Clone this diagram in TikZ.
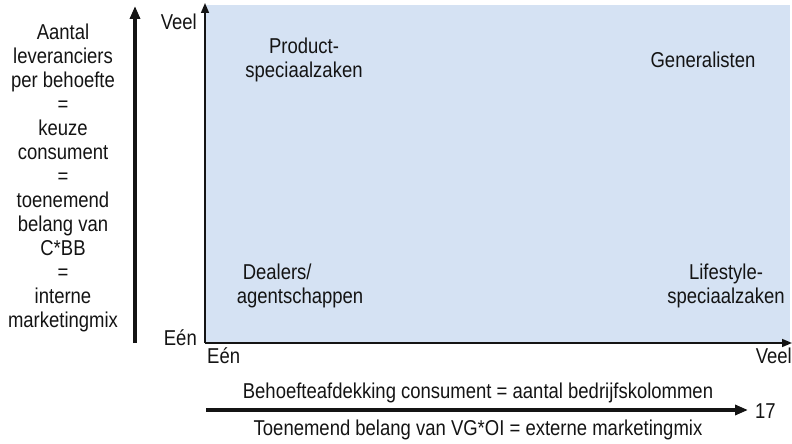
\documentclass[tikz,border=0pt]{standalone}
\usepackage{fontspec}
\setmainfont[FakeStretch=0.86]{Liberation Sans}
\usetikzlibrary{arrows.meta}
\definecolor{field}{RGB}{213,226,243}
\definecolor{ink}{RGB}{20,20,20}
\tikzset{
  lbl/.style={font=\fontsize{21.5}{24}\selectfont, text=ink, inner sep=0pt, align=center},
  axis/.style={draw=ink, line width=1.5pt, -{Triangle[length=10pt,width=8pt]}},
  bigarrow/.style={draw=ink, line width=3.2pt, -{Triangle[length=13pt,width=10pt]}},
}
\begin{document}
\begin{tikzpicture}[x=1pt,y=-1pt]
  \useasboundingbox (0,0) rectangle (792,444);

  % quadrant field
  \fill[field] (206,5) rectangle (790,343);

  % axes
  \coordinate (o) at (205,343);
  \coordinate (ytop) at (205,3);
  \coordinate (xend) at (792,343);
  \draw[axis] (o) -- (ytop);
  \draw[axis] (o) -- (xend);

  % axis end labels
  \node[lbl, anchor=east] (yhigh) at (197,22) {Veel};
  \node[lbl, anchor=east] (ylow)  at (197,338) {Eén};
  \node[lbl, anchor=west] (xlow)  at (207,356) {Eén};
  \node[lbl, anchor=east] (xhigh) at (792,356) {Veel};

  % quadrant labels
  \node[lbl] (prod) at (304,60) {Product-\\speciaalzaken};
  \node[lbl] (gen)  at (703,60) {Generalisten};
  \node[lbl, align=left] (deal) at (300,286) {\hspace{6pt}Dealers/\\agentschappen};
  \node[lbl] (life) at (726,286) {Lifestyle-\\speciaalzaken};

  % vertical dimension
  \coordinate (vlow) at (135,343);
  \coordinate (vhigh) at (135,6);
  \draw[bigarrow] (vlow) -- (vhigh);
  \node[lbl] (vtext) at (63,178) {Aantal\\leveranciers\\per behoefte\\=\\keuze\\consument\\=\\toenemend\\belang van\\C*BB\\=\\interne\\marketingmix};

  % horizontal dimension
  \coordinate (hlow) at (206,410);
  \coordinate (hhigh) at (748,410);
  \draw[bigarrow] (hlow) -- (hhigh);
  \node[lbl] (htop) at (478,393) {Behoefteafdekking consument = aantal bedrijfskolommen};
  \node[lbl] (hbot) at (478,430) {Toenemend belang van VG*OI = externe marketingmix};
  \node[lbl, anchor=west] (page) at (755,411) {17};
\end{tikzpicture}
\end{document}
